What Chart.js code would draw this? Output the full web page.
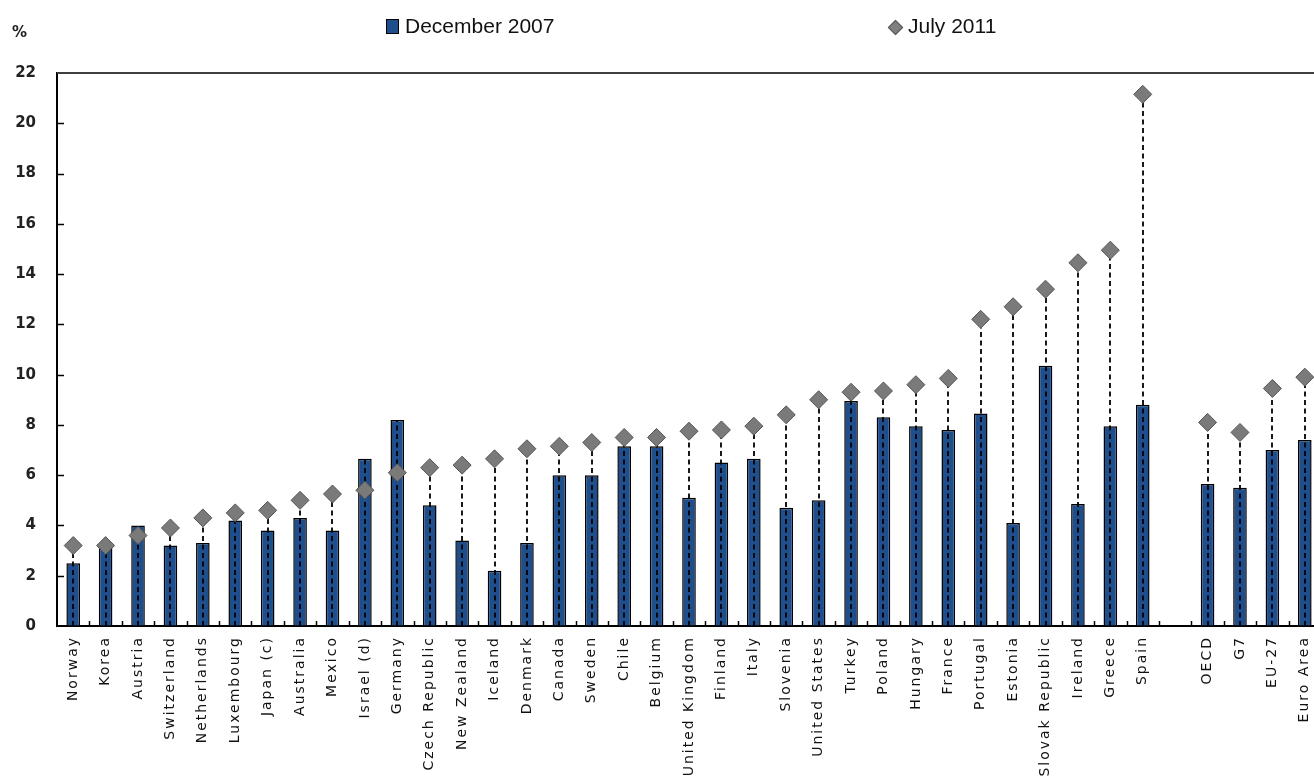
<!DOCTYPE html>
<html><head><meta charset="utf-8">
<script src="https://cdn.jsdelivr.net/npm/chart.js@4.4.1/dist/chart.umd.min.js"></script>
<style>
html,body{margin:0;padding:0;overflow:hidden;background:#fff;width:1314px;height:782px;}
#c{position:absolute;left:0;top:0;}
.lg{position:absolute;font-family:'Liberation Sans',Arial,sans-serif;font-size:21px;line-height:20px;color:#111;white-space:nowrap;}
#pct{position:absolute;left:12px;top:23px;font-family:'DejaVu Sans',sans-serif;font-weight:bold;font-size:15px;color:#222;}
#sw1{position:absolute;left:386px;top:19px;width:11px;height:13px;background:#1F4E8C;border:1.5px solid #000;}
#sw2{position:absolute;left:890px;top:22px;width:9px;height:9px;background:#7F7F7F;border:1px solid #555;transform:rotate(45deg);}
</style></head>
<body>
<canvas id="c" width="1322" height="782" style="width:1322px;height:782px;"></canvas>
<div id="pct">%</div>
<div id="sw1"></div><div class="lg" style="left:405px;top:16px;">December 2007</div>
<div id="sw2"></div><div class="lg" style="left:908px;top:16px;">July 2011</div>
<script>
const categories = ['Norway','Korea','Austria','Switzerland','Netherlands','Luxembourg','Japan (c)','Australia','Mexico','Israel (d)','Germany','Czech Republic','New Zealand','Iceland','Denmark','Canada','Sweden','Chile','Belgium','United Kingdom','Finland','Italy','Slovenia','United States','Turkey','Poland','Hungary','France','Portugal','Estonia','Slovak Republic','Ireland','Greece','Spain','','OECD','G7','EU-27','Euro Area'];
const dec2007 = [2.5,3.1,4.0,3.2,3.3,4.2,3.8,4.3,3.8,6.65,8.2,4.8,3.4,2.2,3.3,6.0,6.0,7.15,7.15,5.1,6.5,6.65,4.7,5.0,8.95,8.3,7.95,7.8,8.45,4.1,10.35,4.85,7.95,8.8,null,5.65,5.5,7.0,7.4];
const jul2011 = [3.2,3.2,3.6,3.9,4.3,4.5,4.6,5.0,5.25,5.4,6.1,6.3,6.4,6.65,7.05,7.15,7.3,7.5,7.5,7.75,7.8,7.95,8.4,9.0,9.3,9.35,9.6,9.85,12.2,12.7,13.4,14.45,14.95,21.15,null,8.1,7.7,9.45,9.9];
const yTickValues = [0,2,4,6,8,10,12,14,16,18,20,22];

const decoPlugin = {
  id: 'deco',
  afterUpdate(chart) {
    const s = chart.scales.x;
    if (s && !s._lsPatched) {
      const orig = s.drawLabels;
      s.drawLabels = function(ca) {
        const ctx = this.ctx;
        ctx.letterSpacing = '2px';
        orig.call(this, ca);
        ctx.letterSpacing = '0px';
      };
      s._lsPatched = true;
    }
  },
  afterDatasetDraw(chart, args) {
    if (args.index !== 0) return;
    const x = chart.scales.x, y = chart.scales.y, ctx = chart.ctx;
    ctx.save();
    ctx.strokeStyle = '#000';
    ctx.lineWidth = 1.8;
    ctx.setLineDash([5, 3.5]);
    categories.forEach((c, i) => {
      const a = dec2007[i], b = jul2011[i];
      if (a == null || b == null) return;
      const px = Math.round(x.getPixelForValue(i));
      ctx.beginPath();
      ctx.moveTo(px, y.getPixelForValue(0));
      ctx.lineTo(px, y.getPixelForValue(Math.max(a, b)));
      ctx.stroke();
    });
    ctx.restore();
  },
  afterDraw(chart) {
    const x = chart.scales.x, y = chart.scales.y, ctx = chart.ctx, ca = chart.chartArea;
    ctx.save();
    ctx.strokeStyle = '#000';
    ctx.lineWidth = 1.5;
    yTickValues.forEach(v => {
      if (v === yTickValues[0] || v === yTickValues[yTickValues.length - 1]) return;
      const py = Math.round(y.getPixelForValue(v)) + 0.5;
      ctx.beginPath(); ctx.moveTo(ca.left, py); ctx.lineTo(ca.left + 7, py); ctx.stroke();
    });
    for (let i = 0; i < categories.length - 1; i++) {
      const px = Math.round((x.getPixelForValue(i) + x.getPixelForValue(i + 1)) / 2) + 0.5;
      ctx.beginPath(); ctx.moveTo(px, ca.bottom); ctx.lineTo(px, ca.bottom - 5); ctx.stroke();
    }
    ctx.strokeStyle = '#404040';
    ctx.lineWidth = 2;
    ctx.beginPath();
    ctx.moveTo(ca.left, ca.top); ctx.lineTo(ca.right, ca.top); ctx.lineTo(ca.right, ca.bottom);
    ctx.stroke();
    ctx.restore();
  }
};

new Chart(document.getElementById('c'), {
  data: {
    labels: categories,
    datasets: [
      {
        type: 'bar', label: 'December 2007', data: dec2007, order: 2,
        backgroundColor: '#1F4E8C', borderColor: '#000', borderWidth: 1.5,
        categoryPercentage: 1, barPercentage: 0.42
      },
      {
        type: 'line', label: 'July 2011', data: jul2011, order: 1, showLine: false,
        pointStyle: 'rectRot', pointRadius: 9, pointHoverRadius: 9,
        pointBackgroundColor: '#7A7A7A', pointBorderColor: '#555555', pointBorderWidth: 1
      }
    ]
  },
  options: {
    responsive: false, maintainAspectRatio: false, animation: false, devicePixelRatio: 1,
    layout: { autoPadding: false, padding: { top: 73, right: 1, left: 0, bottom: 0 } },
    plugins: { legend: { display: false }, tooltip: { enabled: false } },
    scales: {
      x: {
        type: 'category', offset: true,
        afterFit(s) { s.height = 156; s.paddingLeft = 0; s.paddingRight = 0; },
        grid: { display: true, drawOnChartArea: false, drawTicks: false },
        border: { color: '#000', width: 2 },
        ticks: {
          autoSkip: false, minRotation: 90, maxRotation: 90, padding: 10,
          color: '#111', font: { family: 'DejaVu Sans', size: 14 }
        }
      },
      y: {
        min: yTickValues[0], max: yTickValues[yTickValues.length - 1],
        afterFit(s) { s.width = 57; },
        afterBuildTicks(s) { s.ticks = yTickValues.map(v => ({ value: v })); },
        grid: { display: true, drawOnChartArea: false, drawTicks: false },
        border: { color: '#000', width: 2 },
        ticks: {
          padding: 21, color: '#222',
          font: { family: 'DejaVu Sans', size: 15, weight: 'bold' }
        }
      }
    }
  },
  plugins: [decoPlugin]
});
</script>
</body></html>
